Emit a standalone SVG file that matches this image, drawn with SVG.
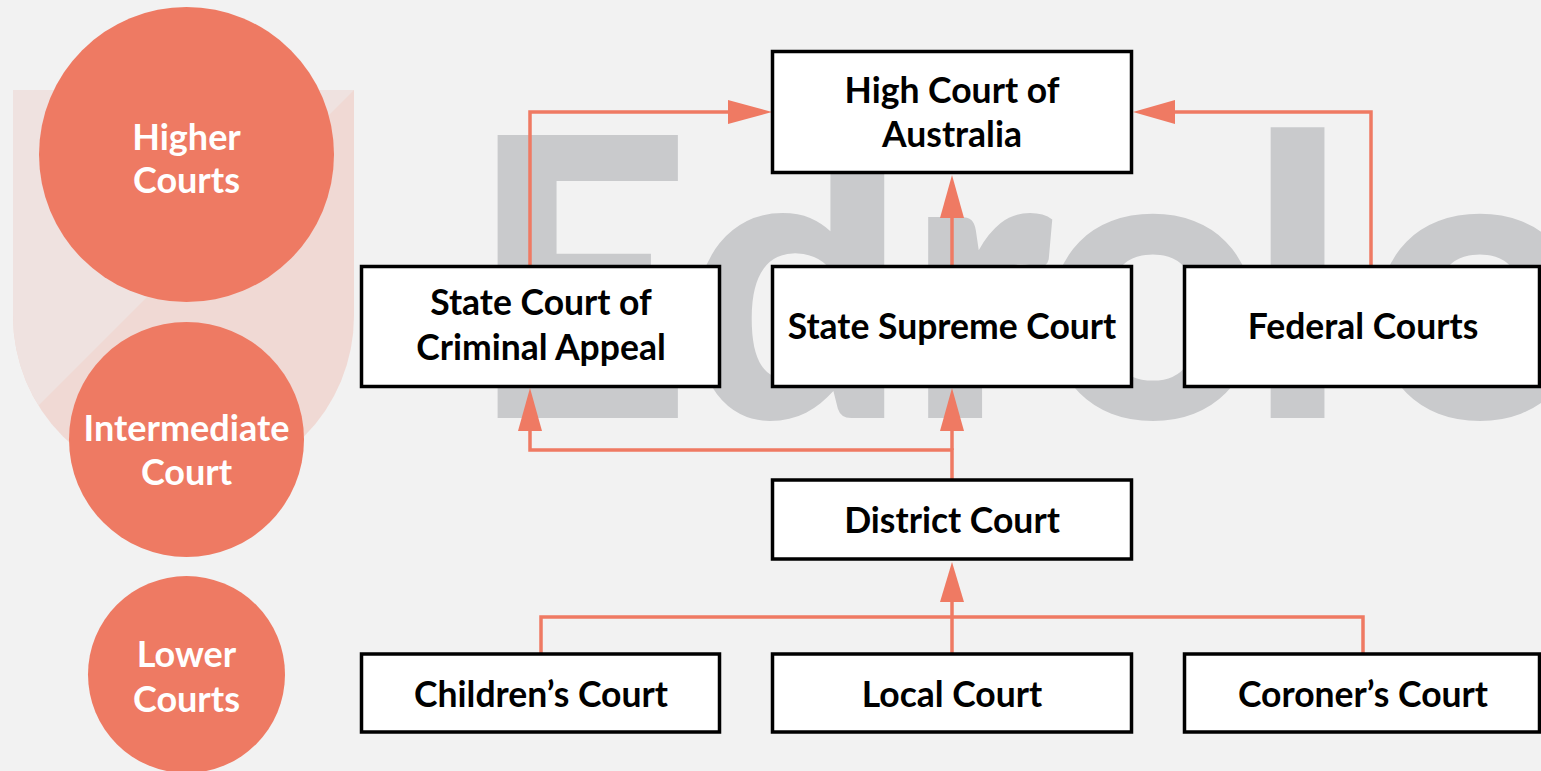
<svg xmlns="http://www.w3.org/2000/svg" width="1541" height="771" viewBox="0 0 1541 771">
  <style>
    .bg { fill: #f2f2f2; }
    .wm { fill: #c9cacc; font-family: Lato, "Open Sans", sans-serif; font-weight: 900; }
    .circ { fill: #ee7a63; }
    .ctext { fill: #ffffff; font-family: Lato, "Noto Sans", sans-serif; font-weight: 700; font-size: 36px; text-anchor: middle; }
    .box { fill: #ffffff; stroke: #000000; stroke-width: 3.5; }
    .btext { fill: #000000; font-family: Lato, "Noto Sans", sans-serif; font-weight: 700; font-size: 35.5px; text-anchor: middle; }
    .conn { fill: none; stroke: #ef7a63; stroke-width: 3.5; }
    .head { fill: #ef7a63; }
  </style>
  <defs>
    <clipPath id="shieldClip">
      <path d="M13,90 H354 V316 A170.5,170.5 0 0 1 13,316 Z"/>
    </clipPath>
  </defs>
  <rect class="bg" x="0" y="0" width="1541" height="771"/>

  <g id="shield">
    <path d="M13,90 H354 V316 A170.5,170.5 0 0 1 13,316 Z" fill="#f0d9d4"/>
    <polygon points="354,90 13,431 13,600 0,600 0,90" fill="#efe2e0" clip-path="url(#shieldClip)"/>
  </g>

  <text class="wm" x="468 684 906 1040 1248 1367" y="418" font-size="390">Edrolo</text>

  <g id="level-higher">
    <circle class="circ" cx="186.5" cy="154.5" r="147.5"/>
    <text class="ctext" x="186.5" y="150">Higher</text>
    <text class="ctext" x="186.5" y="193">Courts</text>
  </g>
  <g id="level-intermediate">
    <circle class="circ" cx="186.5" cy="439.5" r="117.5"/>
    <text class="ctext" x="186.5" y="441">Intermediate</text>
    <text class="ctext" x="186.5" y="485">Court</text>
  </g>
  <g id="level-lower">
    <circle class="circ" cx="186.5" cy="674.5" r="98.5"/>
    <text class="ctext" x="186.5" y="667">Lower</text>
    <text class="ctext" x="186.5" y="712">Courts</text>
  </g>

  <g id="connectors">
    <polyline class="conn" points="530,266 530,112 730,112"/>
    <polygon class="head" points="772,112 728,100 728,124"/>
    <polyline class="conn" points="1371,266 1371,112 1172,112"/>
    <polygon class="head" points="1133,112 1175,100 1175,124"/>
    <line class="conn" x1="952" y1="266" x2="952" y2="215"/>
    <polygon class="head" points="952,175 940,218 964,218"/>
    <polyline class="conn" points="952,480 952,450 530,450 530,428"/>
    <line class="conn" x1="952" y1="450" x2="952" y2="428"/>
    <polygon class="head" points="952,388 940,431 964,431"/>
    <polygon class="head" points="530,388 518,431 542,431"/>
    <line class="conn" x1="952" y1="654" x2="952" y2="600"/>
    <polygon class="head" points="952,562 940,602 964,602"/>
    <polyline class="conn" points="541,654 541,617 1363,617 1363,654"/>
  </g>

  <g id="high-court">
    <rect class="box" x="772.5" y="51.5" width="359" height="121"/>
    <text class="btext" x="952" y="103">High Court of</text>
    <text class="btext" x="952" y="147">Australia</text>
  </g>
  <g id="state-criminal-appeal">
    <rect class="box" x="361.5" y="266.5" width="358" height="120"/>
    <text class="btext" x="541" y="315">State Court of</text>
    <text class="btext" x="541" y="360">Criminal Appeal</text>
  </g>
  <g id="state-supreme">
    <rect class="box" x="772.5" y="266.5" width="359" height="120"/>
    <text class="btext" x="952" y="339">State Supreme Court</text>
  </g>
  <g id="federal">
    <rect class="box" x="1184.5" y="266.5" width="355" height="120"/>
    <text class="btext" x="1363" y="339">Federal Courts</text>
  </g>
  <g id="district">
    <rect class="box" x="772.5" y="480" width="359" height="79"/>
    <text class="btext" x="952" y="533">District Court</text>
  </g>
  <g id="childrens">
    <rect class="box" x="361.5" y="654" width="358" height="78"/>
    <text class="btext" x="541" y="707">Children’s Court</text>
  </g>
  <g id="local">
    <rect class="box" x="772.5" y="654" width="359" height="78"/>
    <text class="btext" x="952" y="707">Local Court</text>
  </g>
  <g id="coroners">
    <rect class="box" x="1184.5" y="654" width="355" height="78"/>
    <text class="btext" x="1363" y="707">Coroner’s Court</text>
  </g>
</svg>
